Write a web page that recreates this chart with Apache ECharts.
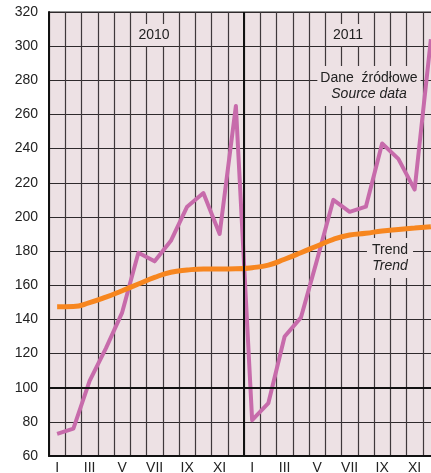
<!DOCTYPE html>
<html>
<head>
    <meta charset="utf-8">
    <script src="https://cdn.jsdelivr.net/npm/echarts@6/dist/echarts.min.js"></script>
    <style>
    html, body { margin: 0; padding: 0; background: #fff; }
    #main { width: 431px; height: 473px; }
    </style>
</head>
<body>
    <div id="main"></div>
    <script type="text/javascript">

        var months = ['I','II','III','IV','V','VI','VII','VIII','IX','X','XI','XII',
                      'I','II','III','IV','V','VI','VII','VIII','IX','X','XI','XII'];
        // Dane źródłowe / Source data
        var source = [73, 76, 104, 123, 144, 179, 174, 186, 206, 214, 190, 265,
                      81, 91, 130, 141, 175, 210, 203, 206, 243, 234, 216, 304];
        // Trend
        var trend = [147.4, 147.5, 149.8, 153, 156.8, 160.7, 164.6, 167.6, 168.9, 169.5, 169.5, 169.6,
                     170.3, 171.8, 175.2, 179, 183, 186.9, 189.4, 190.4, 191.8, 192.7, 193.5, 194.3];

        var plotBg = '#ede1e4';
        var font = "'Liberation Sans', Arial, sans-serif";

        var myChart = echarts.init(document.getElementById('main'));

        var option = {
            backgroundColor: '#fff',
            animation: false,
            grid: {
                left: 49, top: 12, width: 390, height: 444,
                outerBoundsMode: 'none', containLabel: false,
                show: true, backgroundColor: plotBg, borderColor: '#222', borderWidth: 1
            },
            xAxis: [{
                type: 'category',
                data: months,
                boundaryGap: true,
                axisLine: { lineStyle: { color: '#111', width: 2 } },
                axisTick: { show: false },
                axisLabel: { interval: 1, margin: 5, fontSize: 14, color: '#222', fontFamily: font },
                splitLine: { show: true, interval: 0, lineStyle: { color: '#3f383b', width: 1.2 } }
            }, {
                type: 'value', min: 0, max: 24, show: false
            }],
            yAxis: {
                type: 'value',
                min: 60, max: 320, interval: 20,
                axisLine: { show: true, lineStyle: { color: '#111', width: 2 } },
                axisTick: { show: false },
                axisLabel: { margin: 11, fontSize: 14, color: '#222', fontFamily: font },
                splitLine: { lineStyle: { color: '#2f2a2c', width: 1.2 } }
            },
            series: [
                {
                    type: 'line', xAxisIndex: 1, data: [],
                    markLine: {
                        silent: true, symbol: 'none', label: { show: false },
                        data: [
                            { xAxis: 12, lineStyle: { color: '#111', width: 2, type: 'solid' } },
                            { yAxis: 100, lineStyle: { color: '#111', width: 2, type: 'solid' } }
                        ]
                    }
                },
                {
                    name: 'Dane źródłowe',
                    type: 'line',
                    data: source,
                    symbol: 'none',
                    lineStyle: { color: '#c76bab', width: 4, join: 'round' },
                    z: 3
                },
                {
                    name: 'Trend',
                    type: 'line',
                    data: trend,
                    smooth: true,
                    symbol: 'none',
                    lineStyle: { color: '#f7861f', width: 5 },
                    z: 4
                }
            ],
            graphic: [
                {
                    type: 'text', x: 154, y: 35, z: 10,
                    style: {
                        text: '2010', font: '14px ' + font, fill: '#222',
                        align: 'center', verticalAlign: 'middle',
                        backgroundColor: plotBg, padding: [4, 4]
                    }
                },
                {
                    type: 'text', x: 348, y: 35, z: 10,
                    style: {
                        text: '2011', font: '14px ' + font, fill: '#222',
                        align: 'center', verticalAlign: 'middle',
                        backgroundColor: plotBg, padding: [4, 4]
                    }
                },
                {
                    type: 'text', x: 369, y: 86, z: 10,
                    style: {
                        text: '{a|Dane  źródłowe}\n{b|Source data}',
                        align: 'center', verticalAlign: 'middle',
                        backgroundColor: plotBg, padding: [4, 3],
                        rich: {
                            a: { font: '14px ' + font, fill: '#222', lineHeight: 16, align: 'center' },
                            b: { font: 'italic 14px ' + font, fill: '#222', lineHeight: 16, align: 'center' }
                        }
                    }
                },
                {
                    type: 'text', x: 390, y: 258, z: 10,
                    style: {
                        text: '{a|Trend}\n{b|Trend}',
                        align: 'center', verticalAlign: 'middle',
                        backgroundColor: plotBg, padding: [4, 5],
                        rich: {
                            a: { font: '14px ' + font, fill: '#222', lineHeight: 16, align: 'center' },
                            b: { font: 'italic 14px ' + font, fill: '#222', lineHeight: 16, align: 'center' }
                        }
                    }
                }
            ]
        };
        myChart.setOption(option);

    </script>
</body>
</html>
